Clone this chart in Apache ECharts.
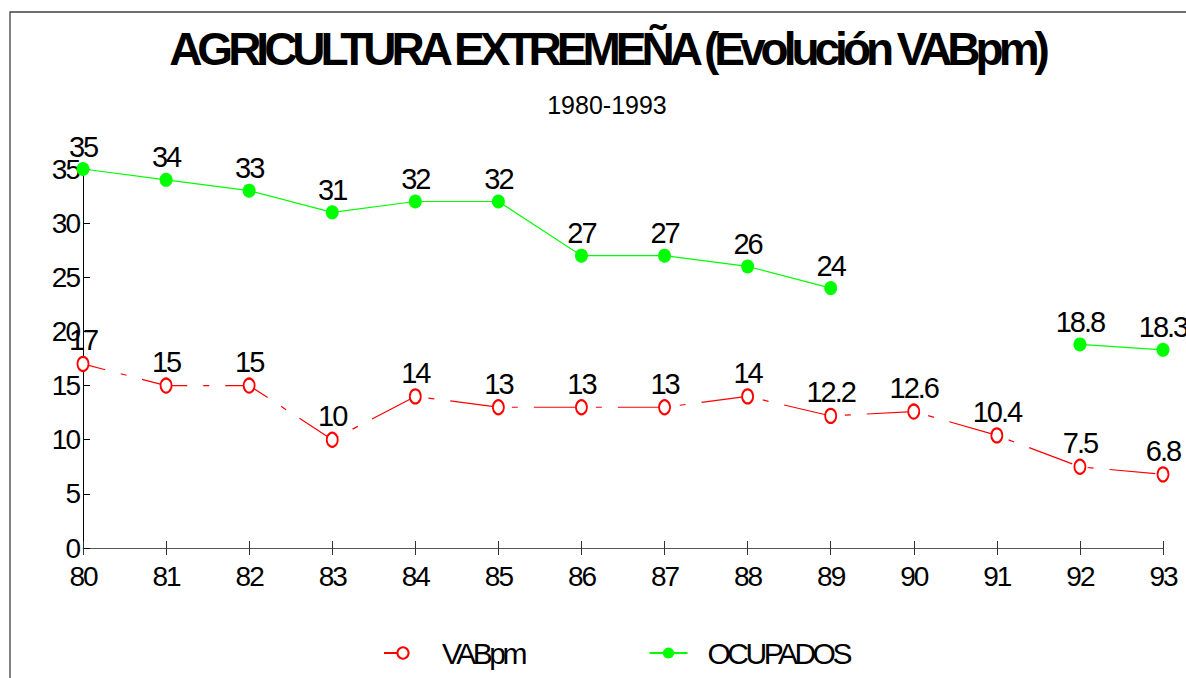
<!DOCTYPE html>
<html><head><meta charset="utf-8">
<script src="https://cdn.jsdelivr.net/npm/echarts@6/dist/echarts.min.js"></script>
<style>
html,body{margin:0;padding:0;background:#fff;overflow:hidden}
#c{width:1186px;height:678px}
#c text{letter-spacing:-2px}
#c text[style*="46px"]{letter-spacing:-5px}
#c text[style*="25px"]{letter-spacing:0px}
#c text[style*="30px"]{letter-spacing:-3.5px}
</style></head><body><div id="c"></div>
<script>
const categories = ['80','81','82','83','84','85','86','87','88','89','90','91','92','93'];
const vabpm = [17, 15, 15, 10, 14, 13, 13, 13, 14, 12.2, 12.6, 10.4, 7.5, 6.8];
const ocupados = [35, 34, 33, 31, 32, 32, 27, 27, 26, 24, null, null, 18.8, 18.3];
const titleText = 'AGRICULTURA EXTREMEÑA (Evolución VABpm)';
const subtitleText = '1980-1993';
const seriesNames = ['VABpm', 'OCUPADOS'];

const FONT = 'Liberation Sans, Arial, Helvetica, sans-serif';
const chart = echarts.init(document.getElementById('c'), null, {renderer: 'svg'});
const labelStyle = {show: true, position: 'top', distance: 1, color: '#000', fontSize: 29, fontFamily: FONT};
chart.setOption({
  animation: false,
  backgroundColor: '#fff',
  graphic: [
    {type: 'rect', shape: {x: 10, y: 12, width: 1300, height: 800}, style: {fill: 'none', stroke: '#404040', lineWidth: 1.3}, silent: true, z: -1},
    {type: 'text', x: 607, y: 49, style: {text: titleText, fontSize: 46, fontWeight: 'bold', fontFamily: FONT, fill: '#000', align: 'center', verticalAlign: 'middle'}},
    {type: 'text', x: 607, y: 105, style: {text: subtitleText, fontSize: 25, fontFamily: FONT, fill: '#000', align: 'center', verticalAlign: 'middle'}}
  ],
  legend: {
    data: seriesNames,
    left: 378, top: 633,
    itemWidth: 38, itemHeight: 14, itemGap: 107,
    textStyle: {fontSize: 30, fontFamily: FONT, color: '#000', padding: [0, 0, 0, 15]}
  },
  grid: {left: 83, right: 23, top: 169, bottom: 130, containLabel: false},
  xAxis: [
    {type: 'category', data: categories, boundaryGap: false, position: 'bottom',
     axisLine: {lineStyle: {color: '#555', width: 1}},
     axisTick: {show: true, length: 7, lineStyle: {color: '#333'}},
     axisLabel: {fontSize: 28, fontFamily: FONT, color: '#000', margin: 14},
     splitLine: {show: false}},
    {type: 'category', data: categories, boundaryGap: false, position: 'bottom',
     axisLine: {show: false},
     axisTick: {show: true, inside: true, length: 7, lineStyle: {color: '#333'}},
     axisLabel: {show: false}, splitLine: {show: false}}
  ],
  yAxis: {
    type: 'value', min: 0, max: 35, interval: 5,
    axisLine: {show: true, lineStyle: {color: '#000', width: 1}},
    axisTick: {show: true, inside: true, length: 7, lineStyle: {color: '#000'}},
    axisLabel: {fontSize: 28, fontFamily: FONT, color: '#000', margin: 4},
    splitLine: {show: false}
  },
  series: [
    {name: seriesNames[0], type: 'line', data: vabpm,
     symbol: 'emptyCircle', symbolSize: [11, 14],
     itemStyle: {color: '#ff0000', borderColor: '#ff0000', borderWidth: 1.1},
     lineStyle: {color: '#ff0000', width: 1.2, type: [46, 16, 6, 16], dashOffset: 23},
     label: labelStyle},
    {name: seriesNames[1], type: 'line', data: ocupados,
     symbol: 'circle', symbolSize: [13, 14], connectNulls: false,
     itemStyle: {color: '#00ff00'},
     lineStyle: {color: '#00ff00', width: 1.2},
     label: labelStyle}
  ]
});
</script></body></html>
